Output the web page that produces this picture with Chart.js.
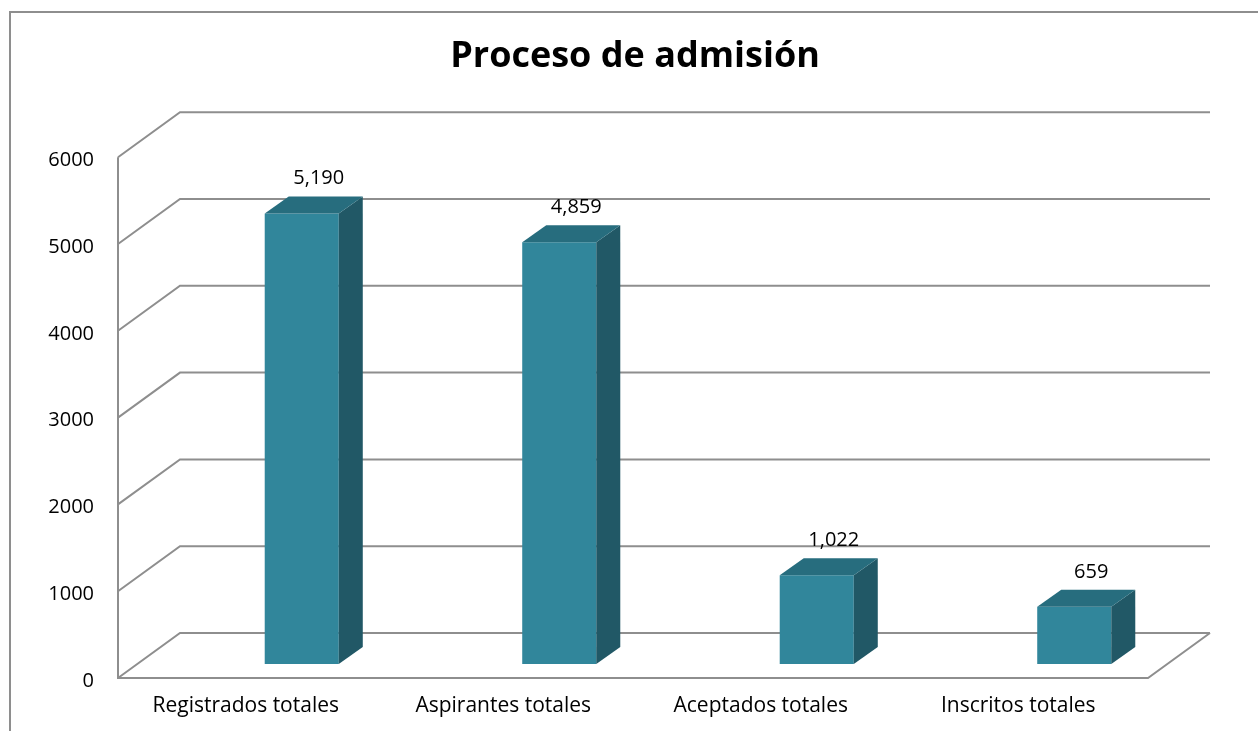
<!DOCTYPE html>
<html>
<head>
<meta charset="utf-8">
<script src="https://cdn.jsdelivr.net/npm/chart.js@4.4.1/dist/chart.umd.min.js"></script>
<style>
  html, body { margin: 0; padding: 0; background: #fff; }
  #caja { width: 1258px; height: 731px; }
</style>
</head>
<body>
<div id="caja"><canvas id="grafico"></canvas></div>
<script>
// --- Datos ---
const categorias = ['Registrados totales', 'Aspirantes totales', 'Aceptados totales', 'Inscritos totales'];
const valores = [5190, 4859, 1022, 659];
const yMin = 0;
const yMax = 6000;
const yPaso = 1000;

// colores de las caras de la barra
const colorFrente = '#31869b';
const colorArriba = '#276d7e';
const colorLado = '#215866';
const colorLinea = '#8e8e8e';
const fuente = '"Open Sans", sans-serif';

// desplazamientos de la perspectiva (pared frontal y trasera respecto al plano de las barras)
const PROF = { dx: 24, dy: -17 };
const FRENTE = { dx: -55, dy: 14 };
const FONDO = { dx: 7, dy: -31 };

const pluginTresD = {
  id: 'tresD',
  beforeDraw(chart) {
    const ctx = chart.ctx;
    ctx.save();
    ctx.strokeStyle = colorLinea;
    ctx.lineWidth = 2;
    ctx.strokeRect(10, 12, 1400, 900);
    ctx.restore();
  },
  beforeDatasetsDraw(chart) {
    const { ctx, chartArea: a, scales: { y } } = chart;
    ctx.save();
    ctx.strokeStyle = colorLinea;
    ctx.lineWidth = 2;
    const xf = a.left + FRENTE.dx, xb = a.left + FONDO.dx, xr = a.right + FONDO.dx;
    y.ticks.forEach(t => {
      const py = y.getPixelForValue(t.value);
      ctx.beginPath();
      ctx.moveTo(xf, py + FRENTE.dy);
      ctx.lineTo(xb, py + FONDO.dy);
      ctx.lineTo(xr, py + FONDO.dy);
      ctx.stroke();
    });
    // piso y pared izquierda
    const p0 = y.getPixelForValue(yMin), pTop = y.getPixelForValue(yMax);
    ctx.beginPath();
    ctx.moveTo(xf, pTop + FRENTE.dy);
    ctx.lineTo(xf, p0 + FRENTE.dy);
    ctx.lineTo(a.right + FRENTE.dx, p0 + FRENTE.dy);
    ctx.lineTo(xr, p0 + FONDO.dy);
    ctx.stroke();
    ctx.restore();
  },
  afterDatasetsDraw(chart) {
    const ctx = chart.ctx;
    const meta = chart.getDatasetMeta(0);
    ctx.save();
    meta.data.forEach((bar, i) => {
      const w = bar.width / 2;
      const l = bar.x - w, r = bar.x + w;
      // lado
      ctx.fillStyle = colorLado;
      ctx.beginPath();
      ctx.moveTo(r, bar.y);
      ctx.lineTo(r + PROF.dx, bar.y + PROF.dy);
      ctx.lineTo(r + PROF.dx, bar.base + PROF.dy);
      ctx.lineTo(r, bar.base);
      ctx.closePath();
      ctx.fill();
      // tapa
      ctx.fillStyle = colorArriba;
      ctx.beginPath();
      ctx.moveTo(l, bar.y);
      ctx.lineTo(l + PROF.dx, bar.y + PROF.dy);
      ctx.lineTo(r + PROF.dx, bar.y + PROF.dy);
      ctx.lineTo(r, bar.y);
      ctx.closePath();
      ctx.fill();
      // etiqueta
      ctx.fillStyle = '#000';
      ctx.font = '20px ' + fuente;
      ctx.textAlign = 'center';
      ctx.textBaseline = 'middle';
      ctx.fillText(valores[i].toLocaleString('en-US'), bar.x + 17, bar.y - 35);
    });
    ctx.restore();
  }
};

new Chart(document.getElementById('grafico'), {
  type: 'bar',
  data: {
    labels: categorias,
    datasets: [{
      data: valores,
      backgroundColor: colorFrente,
      barPercentage: 0.2876,
      categoryPercentage: 1,
      yAxisID: 'y'
    }]
  },
  options: {
    responsive: true, maintainAspectRatio: false, animation: false,
    layout: { padding: { left: 12, right: 0, top: 0, bottom: 0 } },
    plugins: {
      legend: { display: false },
      tooltip: { enabled: false },
      title: {
        display: true,
        text: 'Proceso de admisión',
        color: '#000',
        font: { family: fuente, size: 36, weight: 'bold' },
        padding: { top: 35, bottom: 65 }
      }
    },
    scales: {
      x: {
        grid: { display: false },
        border: { display: false },
        ticks: { color: '#000', font: { family: fuente, size: 21 }, padding: 21, labelOffset: -56, maxRotation: 0 },
        afterFit: s => { s.height = 67; }
      },
      y: {
        min: yMin, max: yMax,
        grid: { display: false },
        border: { display: false },
        ticks: { stepSize: yPaso, color: '#000', font: { family: fuente, size: 20 }, padding: 71, labelOffset: 17, callback: v => String(v) },
        afterFit: s => { s.width = 161; s.paddingTop = 0; s.paddingBottom = 0; }
      },
      // eje vacio a la derecha, solo reserva espacio
      yDer: {
        position: 'right',
        grid: { display: false },
        border: { display: false },
        ticks: { display: false },
        afterFit: s => { s.width = 55; s.paddingTop = 0; s.paddingBottom = 0; }
      }
    }
  },
  plugins: [pluginTresD]
});
</script>
</body>
</html>
